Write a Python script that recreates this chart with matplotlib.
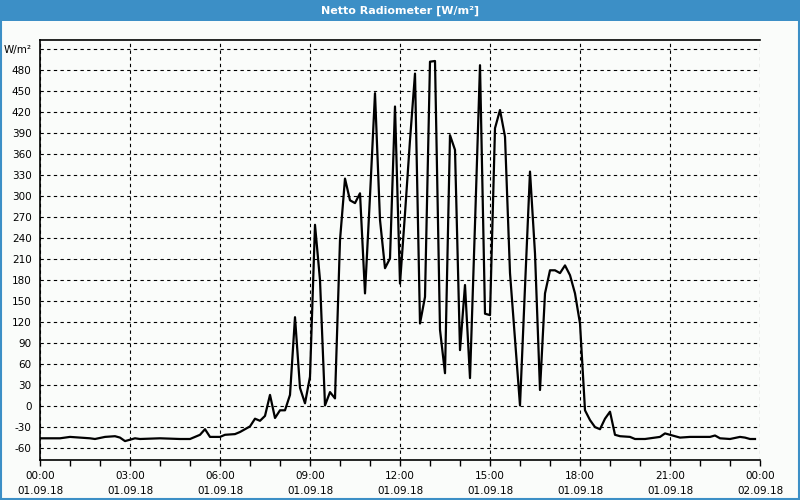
import matplotlib
matplotlib.use("Agg")
import matplotlib.pyplot as plt
from matplotlib.patches import Rectangle
from matplotlib.ticker import MultipleLocator

# minutes since 01.09.18 00:00 and net radiation (W/m²)
minutes = [0, 40, 60, 80, 100, 110, 130, 150, 160, 170, 180, 190, 200, 240, 280, 300,
           320, 330, 340, 360, 370, 390, 400, 410, 420, 430, 440, 450, 460, 470, 480,
           490, 500, 510, 520, 530, 540, 550, 560, 570, 580, 590, 600, 610, 620, 630,
           640, 650, 660, 670, 680, 690, 700, 710, 720, 730, 740, 750, 760, 770, 780,
           790, 800, 810, 820, 830, 840, 850, 860, 870, 880, 890, 900, 910, 920, 930,
           940, 960, 970, 980, 990, 1000, 1010, 1020, 1030, 1040, 1050, 1060, 1070,
           1080, 1090, 1100, 1110, 1120, 1130, 1140, 1150, 1160, 1180, 1190, 1210,
           1240, 1250, 1260, 1280, 1300, 1340, 1350, 1360, 1380, 1400, 1410, 1420, 1430]
values = [-46, -46, -44, -45, -46, -47, -44, -43, -45, -50, -48, -46, -47, -46, -47, -47,
          -41, -33, -44, -44, -41, -40, -37, -33, -29, -18, -21, -14, 16, -17, -6,
          -6, 16, 127, 26, 4, 42, 259, 180, 1, 20, 11, 237, 325, 294, 290,
          304, 161, 300, 447, 266, 197, 211, 428, 175, 275, 380, 475, 118, 156, 492,
          493, 109, 47, 387, 366, 80, 173, 40, 260, 487, 132, 130, 397, 423, 385,
          190, 1, 170, 335, 218, 23, 161, 194, 194, 190, 201, 187, 161,
          118, -6, -20, -30, -33, -18, -8, -41, -43, -44, -47, -47,
          -44, -39, -41, -45, -44, -44, -42, -46, -47, -44, -45, -47, -47]

y_ticks = [-60, -30, 0, 30, 60, 90, 120, 150, 180, 210, 240, 270, 300, 330, 360,
           390, 420, 450, 480, 510]
y_labels = [str(v) for v in y_ticks[:-1]] + ["W/m²"]
x_ticks = [0, 180, 360, 540, 720, 900, 1080, 1260, 1440]
x_labels = ["00:00\n01.09.18", "03:00\n01.09.18", "06:00\n01.09.18", "09:00\n01.09.18",
            "12:00\n01.09.18", "15:00\n01.09.18", "18:00\n01.09.18", "21:00\n01.09.18",
            "00:00\n02.09.18"]
title = "Netto Radiometer [W/m²]"

bg = "#fafcfa"
blue = "#3c8fc6"

fig = plt.figure(figsize=(8, 5), dpi=100, facecolor=bg)
ax = fig.add_axes([0.05, 0.08, 0.90, 0.84], facecolor=bg)

ax.plot(minutes, values, color="black", lw=1.6)

ax.set_xlim(0, 1440)
ax.set_ylim(-77, 523)
ax.set_xticks(x_ticks)
ax.set_xticklabels(x_labels, fontsize=7.5, linespacing=1.55)
ax.xaxis.set_minor_locator(MultipleLocator(60))
ax.set_yticks(y_ticks)
ax.set_yticklabels(y_labels, fontsize=7.5)
ax.tick_params(axis="y", length=0, pad=6)
ax.tick_params(axis="x", which="both", length=4, width=1, direction="out", pad=4)
ax.grid(True, color="black", linestyle=(0, (3, 3)), lw=0.8)

for s in ["left", "bottom", "top"]:
    ax.spines[s].set_linewidth(1.2)
ax.spines["right"].set_visible(False)

# title bar and window frame
fig.patches.append(Rectangle((0, 0.959), 1, 0.041, transform=fig.transFigure,
                             facecolor=blue, edgecolor="none", zorder=0))
fig.patches.append(Rectangle((0.0015, 0.002), 0.997, 0.96, transform=fig.transFigure,
                             facecolor="none", edgecolor=blue, lw=1.5, zorder=0))
fig.text(0.5, 0.979, title, color="white", fontsize=8, fontweight="bold",
         ha="center", va="center")

fig.savefig("out.png", dpi=100, facecolor=bg)
